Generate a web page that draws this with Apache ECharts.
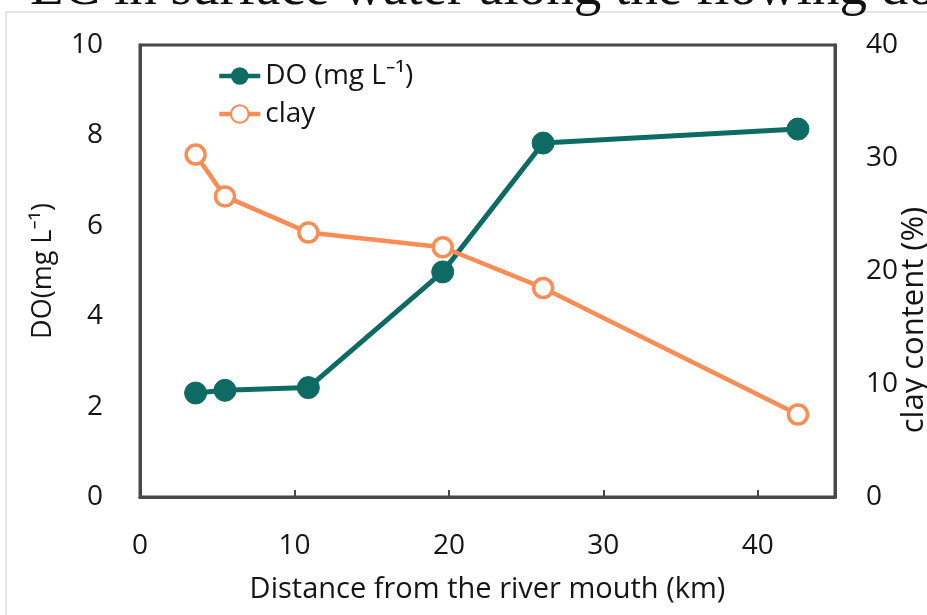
<!DOCTYPE html>
<html><head><meta charset="utf-8">
<script src="https://cdn.jsdelivr.net/npm/echarts@6/dist/echarts.min.js"></script>
<style>html,body{margin:0;padding:0;background:#fff;overflow:hidden;}#c{width:927px;height:615px;}</style>
</head><body><div id="c"></div>
<script>
const distance = [3.6, 5.5, 10.9, 19.6, 26.1, 42.6];
const doValues = [2.30, 2.36, 2.42, 4.98, 7.83, 8.14];
const clayValues = [30.3, 26.6, 23.4, 22.1, 18.5, 7.3];
const xTicks = [0, 10, 20, 30, 40];

const font = '"Open Sans", "Noto Sans", sans-serif';
const txt = '#151515';
const chart = echarts.init(document.getElementById('c'));
chart.setOption({
  animation: false,
  backgroundColor: '#fff',
  graphic: [
    { type: 'line', shape: { x1: 6, y1: 12, x2: 927, y2: 12 }, style: { stroke: '#dcdcdc', lineWidth: 1.5 } },
    { type: 'line', shape: { x1: 6, y1: 12, x2: 6, y2: 615 }, style: { stroke: '#dcdcdc', lineWidth: 1.5 } },
    { type: 'text', x: 30, y: -10, style: { text: 'EC in surface water along the flowing do', font: '55px "Liberation Serif", "DejaVu Serif", serif', fill: '#111', verticalAlign: 'middle' } }
  ],
  grid: { left: 140, right: 92, top: 45, bottom: 118, outerBoundsMode: 'none', containLabel: false, show: true, borderColor: '#484848', borderWidth: 3, backgroundColor: 'transparent' },
  legend: {
    orient: 'vertical', left: 212, top: 57, itemWidth: 41, itemHeight: 22, itemGap: 10,
    textStyle: { fontFamily: font, fontSize: 28, color: txt },
    lineStyle: { width: 4.5 },
    data: ['DO (mg L⁻¹)', 'clay']
  },
  xAxis: {
    type: 'value', min: 0, max: 45, interval: 10,
    name: 'Distance from the river mouth (km)', nameLocation: 'middle', nameGap: 78,
    nameTextStyle: { fontFamily: font, fontSize: 29, color: txt },
    axisLine: { show: true, lineStyle: { color: '#484848', width: 3 } },
    axisTick: { show: true, inside: true, length: 7, lineStyle: { color: '#484848', width: 2 } },
    axisLabel: { showMaxLabel: false, margin: 35, fontFamily: font, fontSize: 28, color: txt,
      formatter: v => xTicks.includes(v) ? String(v) : '' },
    splitLine: { show: false }
  },
  yAxis: [
    {
      type: 'value', min: 0, max: 10, interval: 2, position: 'left',
      name: 'DO(mg L⁻¹)', nameLocation: 'middle', nameGap: 83,
      nameTextStyle: { fontFamily: font, fontSize: 27, color: txt },
      axisLine: { show: true, lineStyle: { color: '#484848', width: 3 } },
      axisTick: { show: false },
      axisLabel: { margin: 37, fontFamily: font, fontSize: 28, color: txt },
      splitLine: { show: false }
    },
    {
      type: 'value', min: 0, max: 40, interval: 10, position: 'right',
      name: 'clay content (%)', nameLocation: 'middle', nameGap: 64, nameMoveOverlap: false,
      nameTextStyle: { fontFamily: font, fontSize: 31, color: txt, padding: [0, 98, 0, 0] },
      axisLine: { show: true, lineStyle: { color: '#484848', width: 3 } },
      axisTick: { show: false },
      axisLabel: { margin: 31, fontFamily: font, fontSize: 28, color: txt },
      splitLine: { show: false }
    }
  ],
  series: [
    {
      name: 'DO (mg L⁻¹)', type: 'line', yAxisIndex: 0,
      data: distance.map((d, i) => [d, doValues[i]]),
      symbol: 'circle', symbolSize: 22,
      lineStyle: { color: '#0d6b63', width: 5 },
      itemStyle: { color: '#0d6b63', borderColor: '#0d6b63' }
    },
    {
      name: 'clay', type: 'line', yAxisIndex: 1,
      data: distance.map((d, i) => [d, clayValues[i]]),
      symbol: 'circle', symbolSize: 19,
      lineStyle: { color: '#fb8c55', width: 4.5 },
      itemStyle: { color: '#ffffff', borderColor: '#fb8c55', borderWidth: 3.5 }
    }
  ]
});
</script></body></html>
